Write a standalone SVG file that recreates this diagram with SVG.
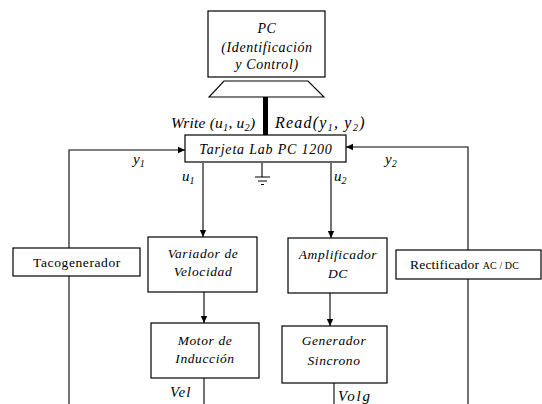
<svg xmlns="http://www.w3.org/2000/svg" width="542" height="404" viewBox="0 0 542 404">
<style>
.box{fill:#fff;stroke:#000;stroke-width:1.2}
.ln{fill:none;stroke:#000;stroke-width:1.1}
text{font-family:"Liberation Serif","DejaVu Serif",serif;fill:#000}
.it{font-style:italic}
.bx{font-size:13.5px;letter-spacing:0.6px}
</style>
<defs>
<marker id="ah" markerWidth="8" markerHeight="8" refX="7" refY="4" orient="auto" markerUnits="userSpaceOnUse">
<path d="M0,0.8 L7,4 L0,7.2 Z" fill="#000"/>
</marker>
</defs>
<rect width="542" height="404" fill="#fff"/>
<g id="connectors">
<rect x="263" y="97" width="5" height="38" fill="#000"/>
<path class="ln" d="M203,163 V237" marker-end="url(#ah)"/>
<path class="ln" d="M331,163 V238" marker-end="url(#ah)"/>
<path class="ln" d="M204,292 V323" marker-end="url(#ah)"/>
<path class="ln" d="M330,293 V326" marker-end="url(#ah)"/>
<path class="ln" d="M69,248 V150 H185" marker-end="url(#ah)"/>
<path class="ln" d="M468,250 V147 H346" marker-end="url(#ah)"/>
<path class="ln" d="M69,276 V404"/>
<path class="ln" d="M468,279 V404"/>
<path class="ln" d="M204,378 V404"/>
<path class="ln" d="M334,383 V404"/>
<path class="ln" d="M262,163 V177 M255,177 H270 M258,181 H267 M261,184.5 H264"/>
</g>
<g id="pc">
<rect class="box" x="208" y="11" width="117" height="66"/>
<path class="ln" d="M224,81 H308 L324,97 H209 Z"/>
<text class="it" font-size="14" letter-spacing="0.6" text-anchor="middle" x="267" y="33">PC</text>
<text class="it" font-size="14" letter-spacing="0.6" text-anchor="middle" x="267" y="52">(Identificación</text>
<text class="it" font-size="14" letter-spacing="0.6" text-anchor="middle" x="267" y="69">y Control)</text>
</g>
<g id="io-labels">
<text class="it" font-size="15.5" letter-spacing="0.2" x="171" y="128">Write (u<tspan font-size="10.5" dy="3">1</tspan><tspan dy="-3">, u</tspan><tspan font-size="10.5" dy="3">2</tspan><tspan dy="-3">)</tspan></text>
<text class="it" font-size="16" letter-spacing="1.2" x="275" y="128">Read(y<tspan font-size="10.5" dy="3">1</tspan><tspan dy="-3">, y</tspan><tspan font-size="10.5" dy="3">2</tspan><tspan dy="-3">)</tspan></text>
</g>
<g id="tarjeta">
<rect class="box" x="185" y="135" width="161" height="27"/>
<text class="it" font-size="14" letter-spacing="0.8" text-anchor="middle" x="266" y="154">Tarjeta Lab PC 1200</text>
</g>
<g id="signal-labels">
<text class="it" font-size="15" x="133" y="164">y<tspan font-size="10" dy="3">1</tspan></text>
<text class="it" font-size="15" x="385" y="164">y<tspan font-size="10" dy="3">2</tspan></text>
<text class="it" font-size="15" x="182" y="181">u<tspan font-size="10" dy="3">1</tspan></text>
<text class="it" font-size="15" x="334" y="181">u<tspan font-size="10" dy="3">2</tspan></text>
<text class="it" font-size="15" letter-spacing="1" x="170" y="397">Vel</text>
<text class="it" font-size="15" letter-spacing="1.8" x="338" y="401">Volg</text>
</g>
<g id="tacogenerador">
<rect class="box" x="13" y="248" width="127" height="28"/>
<text class="bx" text-anchor="middle" x="77" y="267">Tacogenerador</text>
</g>
<g id="variador">
<rect class="box" x="148" y="237" width="109" height="55"/>
<text class="it bx" text-anchor="middle" x="203" y="258">Variador de</text>
<text class="it bx" text-anchor="middle" x="203" y="276">Velocidad</text>
</g>
<g id="amplificador">
<rect class="box" x="288" y="238" width="99" height="55"/>
<text class="it bx" text-anchor="middle" x="338" y="259">Amplificador</text>
<text class="it bx" text-anchor="middle" x="338" y="278">DC</text>
</g>
<g id="rectificador">
<rect class="box" x="396" y="250" width="145" height="29"/>
<text font-size="13.5" letter-spacing="0.2" x="410" y="269">Rectificador <tspan font-size="10" letter-spacing="0.1">AC / DC</tspan></text>
</g>
<g id="motor">
<rect class="box" x="151" y="323" width="108" height="55"/>
<text class="it bx" text-anchor="middle" x="205" y="345">Motor de</text>
<text class="it bx" text-anchor="middle" x="205" y="363">Inducción</text>
</g>
<g id="generador">
<rect class="box" x="282" y="326" width="105" height="57"/>
<text class="it bx" text-anchor="middle" x="334" y="345">Generador</text>
<text class="it bx" text-anchor="middle" x="334" y="365">Sincrono</text>
</g>
</svg>
